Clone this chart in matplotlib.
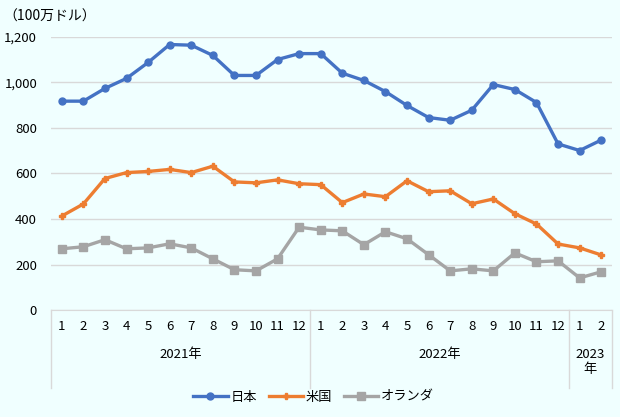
import numpy as np
import matplotlib.pyplot as plt
import matplotlib.transforms as mtransforms

plt.rcParams['font.family'] = ['Noto Sans CJK JP', 'DejaVu Sans']

# data (100万ドル), 2021/1 - 2023/2
months = [str(m) for m in range(1, 13)] * 2 + ['1', '2']
years = ['2021年', '2022年', '2023\n年']
year_len = [12, 12, 2]
japan = [918, 918, 974, 1018, 1088, 1167, 1164, 1119, 1031, 1031, 1101, 1127,
         1127, 1041, 1009, 960, 899, 846, 834, 878, 991, 969, 912, 730,
         701, 747]
usa = [413, 466, 578, 604, 609, 618, 604, 632, 563, 559, 572, 555,
       551, 472, 510, 498, 568, 520, 524, 467, 488, 423, 378, 290,
       273, 242]
neth = [269, 278, 309, 269, 273, 291, 273, 225, 177, 172, 225, 364,
        352, 348, 287, 344, 313, 243, 172, 181, 172, 251, 212, 216,
        141, 168]

bg = '#F0FFFF'
grid_c = '#D9D9D9'

fig = plt.figure(figsize=(6.2, 4.17), dpi=100, facecolor=bg)
ax = fig.add_axes([51/620, 107/417, 561/620, 273/417], facecolor=bg)

x = np.arange(len(japan))
ax.plot(x, japan, color='#4472C4', lw=2.4, marker='o', ms=5, label='日本')
ax.plot(x, usa, color='#ED7D31', lw=2.4, marker='P', ms=5, label='米国')
ax.plot(x, neth, color='#A5A5A5', lw=2.4, marker='s', ms=5.5, label='オランダ')

ax.set_xlim(-0.5, len(x) - 0.5)
ax.set_ylim(0, 1200)
ax.set_yticks(range(0, 1201, 200))
ax.set_yticklabels(['{:,}'.format(v) for v in range(0, 1201, 200)])
ax.yaxis.grid(True, color=grid_c, lw=1)
ax.set_axisbelow(True)
for s in ['top', 'right', 'left']:
    ax.spines[s].set_visible(False)
ax.spines['bottom'].set_color(grid_c)

ax.set_xticks(x)
ax.set_xticklabels(months)
ax.tick_params(axis='both', length=0, labelsize=9.5, colors='#000000')
ax.tick_params(axis='x', pad=7)
ax.tick_params(axis='y', pad=10)

# year groups
tr = mtransforms.blended_transform_factory(ax.transData, ax.transAxes)
bounds = np.concatenate([[0], np.cumsum(year_len)]) - 0.5
for b in bounds:
    ax.plot([b, b], [0, -78/273], color=grid_c, lw=1, transform=tr, clip_on=False)
for i, yl in enumerate(years):
    cx = (bounds[i] + bounds[i + 1]) / 2
    ax.text(cx, -38/273, yl, transform=tr, ha='center', va='top', fontsize=9.5,
            linespacing=1.2)

fig.text(3/620, 1 - 17/417, '（100万ドル）', fontsize=10, va='center', ha='left')

ax.legend(loc='center', bbox_to_anchor=(0.468, -87/273), ncol=3, frameon=False,
          fontsize=9.5, handlelength=2.6, columnspacing=0.9, handletextpad=0.2)

fig.savefig('out.png', dpi=100, facecolor=bg)
